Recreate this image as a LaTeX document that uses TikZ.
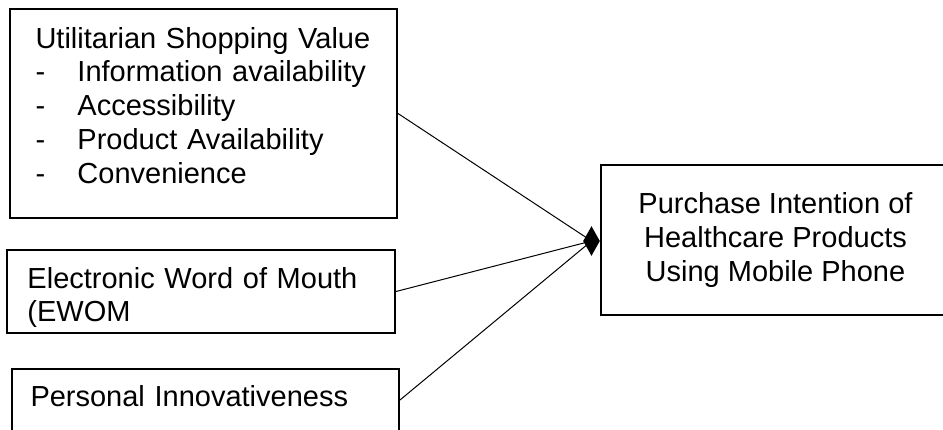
\documentclass[tikz,border=0pt]{standalone}
\usepackage{fontspec}
\setmainfont{Liberation Sans}
\usepackage{tikz}
\usetikzlibrary{positioning,shapes.geometric}

\newcommand{\itemdash}{\makebox[31.5pt][l]{-}}

\begin{document}
\begin{tikzpicture}[x=0.75pt,y=-0.75pt,line width=0.75pt,
                    font=\fontsize{21.75}{25.4}\selectfont]
  \tikzstyle{factor}=[draw=black,line width=1.5pt,inner sep=0pt]
  \tikzstyle{factortext}=[anchor=base west,inner sep=0pt,text width=300pt,align=left]
  \useasboundingbox (0,0) rectangle (943,429);

  \node[factor, minimum width=290.25pt, minimum height=156.75pt] (usv)  at (203.5,113.5) {};
  \node[factor, minimum width=291pt,    minimum height=62.25pt]  (ewom) at (201,291.5)   {};
  \node[factor, minimum width=290.25pt, minimum height=46.5pt]   (pin)  at (205.5,400)   {};
  \node[factor, minimum width=261.75pt, minimum height=112.5pt, align=center] (pi) at (775.5,240)
        {Purchase Intention of\\Healthcare Products\\Using Mobile Phone};
  \node[diamond, fill=black, inner sep=0pt, minimum width=12.75pt, minimum height=22.5pt] (hub) at (591.5,241) {};

  \node[factortext] (usvtext) at (35,48) {Utilitarian Shopping Value\\
        \itemdash Information availability\\
        \itemdash Accessibility\\
        \itemdash Product Availability\\
        \itemdash Convenience};
  \node[factortext] (ewomtext) at (27,288) {Electronic Word of Mouth\\(EWOM};
  \node[factortext] (pintext)  at (30,406) {Personal Innovativeness};

  \path (usv.east)  edge (hub.center)
        (ewom.east) edge (hub.center)
        (pin.east)  edge (hub.center);
\end{tikzpicture}
\end{document}
